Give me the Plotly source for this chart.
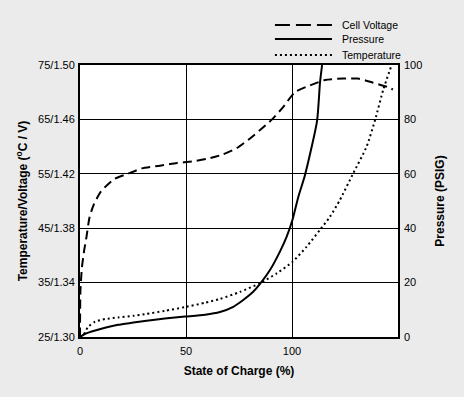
import plotly.graph_objects as go

# ---- data ----
soc_voltage = [0, 0.2, 0.9, 2, 3.1, 4.5, 6.4, 9.9, 16, 22.6, 29.2, 37.7, 45.8, 52.8, 59.9,
               67, 74.1, 80.2, 86.3, 90.6, 95.8, 101.4, 108.5, 115.6, 124.1, 131.1, 138.2,
               144.8, 147.6]
cell_voltage = [1.300, 1.334, 1.351, 1.364, 1.374, 1.388, 1.397, 1.407, 1.416, 1.420, 1.424,
                1.426, 1.428, 1.429, 1.431, 1.434, 1.439, 1.446, 1.454, 1.460, 1.469, 1.480,
                1.485, 1.489, 1.490, 1.490, 1.487, 1.484, 1.482]

soc_pressure = [0, 2, 5.5, 11.8, 18, 25.2, 30.5, 40, 49.5, 59, 66, 72.3, 77, 81.8, 84.9,
                89.6, 94.3, 97.5, 100.2, 103, 106.1, 111.8, 113.2, 114.2]
pressure = [0, 1, 2, 3.4, 4.5, 5.3, 5.9, 6.8, 7.5, 8.2, 9.2, 11.1, 13.6, 16.7, 19.5, 24.6,
            31.4, 36.9, 43, 51.6, 59.5, 79.4, 93.4, 100]

soc_temperature = [0, 1.6, 3.9, 7.1, 11.8, 18, 25.2, 30.5, 40, 49.5, 59, 66, 75.5, 84.9,
                   92.8, 100.2, 106.9, 113.2, 117.9, 122.6, 128.9, 135.2, 139.2, 143, 147]
temperature = [25, 25.4, 26.9, 27.8, 28.3, 28.6, 28.9, 29.2, 29.8, 30.5, 31.3, 32.0, 33.3,
               34.9, 36.7, 38.8, 41.6, 44.7, 47.1, 50.2, 55.1, 60, 64.9, 70.4, 75]

left_tickvals = [25, 35, 45, 55, 65, 75]
left_ticktext = ["25/1.30", "35/1.34", "45/1.38", "55/1.42", "65/1.46", "75/1.50"]
right_tickvals = [0, 20, 40, 60, 80, 100]
x_tickvals = [0, 50, 100]

series_names = ["Cell Voltage", "Pressure", "Temperature"]
series_dash = ["9px,5px", "solid", "2px,3px"]
legend_dash = ["15px,6px", "solid", "2px,3px"]

FONT = "Liberation Sans, Arial, sans-serif"
BG = "#ebebeb"

fig = go.Figure()
fig.add_trace(go.Scatter(x=soc_voltage, y=cell_voltage, yaxis="y3", mode="lines",
                         name=series_names[0],
                         line=dict(color="black", width=2, dash=series_dash[0],
                                   shape="spline", smoothing=0.6)))
fig.add_trace(go.Scatter(x=soc_pressure, y=pressure, yaxis="y2", mode="lines",
                         name=series_names[1],
                         line=dict(color="black", width=2, dash=series_dash[1],
                                   shape="spline", smoothing=0.6)))
fig.add_trace(go.Scatter(x=soc_temperature, y=temperature, yaxis="y", mode="lines",
                         name=series_names[2],
                         line=dict(color="black", width=2, dash=series_dash[2],
                                   shape="spline", smoothing=0.6)))

# manual legend (sample line + label) above the plot, right side
legend_y = [1.147, 1.096, 1.037]
shapes = []
annotations = []
for name, dash, ly in zip(series_names, legend_dash, legend_y):
    shapes.append(dict(type="line", xref="paper", yref="paper", x0=0.613, x1=0.7925,
                       y0=ly, y1=ly, line=dict(color="black", width=2, dash=dash)))
    annotations.append(dict(xref="paper", yref="paper", x=0.818, y=ly, xanchor="left",
                            yanchor="middle", text=name, showarrow=False,
                            font=dict(family=FONT, size=10.5, color="black")))

fig.update_layout(
    width=464, height=397,
    margin=dict(l=80, r=66, t=65, b=60),
    paper_bgcolor=BG, plot_bgcolor="white",
    font=dict(family=FONT, size=11, color="black"),
    showlegend=False,
    hovermode=False,
    shapes=shapes,
    annotations=annotations,
    xaxis=dict(range=[0, 150], tickvals=x_tickvals, showline=True, linewidth=2,
               linecolor="black", mirror=True, showgrid=True, gridcolor="black",
               gridwidth=1, zeroline=False, ticks="", automargin=False,
               ticklabelstandoff=3, fixedrange=True,
               title=dict(text="<b>State of Charge (%)</b>",
                          font=dict(family=FONT, size=12), standoff=10)),
    yaxis=dict(range=[25, 75], tickvals=left_tickvals, ticktext=left_ticktext,
               showline=True, linewidth=2, linecolor="black", mirror=True,
               showgrid=True, gridcolor="black", gridwidth=1, zeroline=False,
               ticks="", automargin=False, ticklabelstandoff=1, fixedrange=True,
               title=dict(text="<b>Temperature/Voltage (<sup>o</sup>C / V)</b>",
                          font=dict(family=FONT, size=12), standoff=8)),
    yaxis2=dict(range=[0, 100], tickvals=right_tickvals, overlaying="y", side="right",
                showgrid=False, zeroline=False, showline=False, ticks="",
                automargin=False, ticklabelstandoff=5, fixedrange=True,
                title=dict(text="<b>Pressure (PSIG)</b>", font=dict(family=FONT, size=12),
                           standoff=14)),
    yaxis3=dict(range=[1.30, 1.50], overlaying="y", visible=False, fixedrange=True),
)

fig.write_html(
    "out.html",
    config={"displayModeBar": False, "staticPlot": True},
    post_script="document.body.style.margin='0';document.body.style.background='#ebebeb';",
)
